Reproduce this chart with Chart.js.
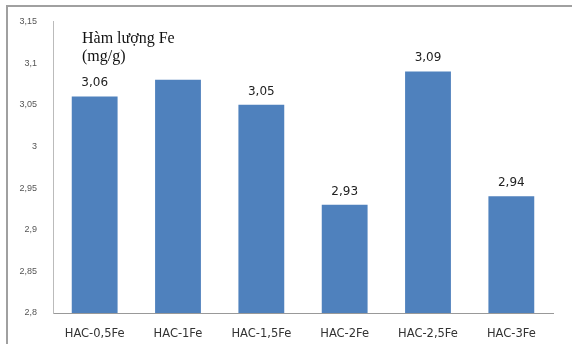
<!DOCTYPE html>
<html>
<head>
<meta charset="utf-8">
<script src="https://cdn.jsdelivr.net/npm/chart.js@4/dist/chart.umd.min.js"></script>
<style>
  html, body { margin: 0; padding: 0; background: #ffffff; }
  #wrap { position: relative; width: 572px; height: 344px; }
</style>
</head>
<body>
<div id="wrap"><canvas id="c" width="572" height="344"></canvas></div>
<script>
// Iron content per sample
const categories = ['HAC-0,5Fe', 'HAC-1Fe', 'HAC-1,5Fe', 'HAC-2Fe', 'HAC-2,5Fe', 'HAC-3Fe'];
const feValues = [3.06, 3.08, 3.05, 2.93, 3.09, 2.94];
const showValueLabel = [true, false, true, true, true, true];
const yTicks = [2.8, 2.85, 2.9, 2.95, 3, 3.05, 3.1, 3.15];
const titleLines = ['Hàm lượng Fe', '(mg/g)'];

const fmt = v => String(v).replace('.', ',');

// Frame lines, title and value labels
const decor = {
  id: 'decor',
  beforeDraw(chart) {
    const ctx = chart.ctx;
    ctx.save();
    ctx.fillStyle = '#ffffff';
    ctx.fillRect(0, 0, chart.width, chart.height);
    ctx.strokeStyle = '#a0a0a0';
    ctx.lineWidth = 2;
    ctx.beginPath();
    ctx.moveTo(7, 344);
    ctx.lineTo(7, 6);
    ctx.lineTo(572, 6);
    ctx.stroke();
    ctx.restore();
  },
  afterDatasetsDraw(chart) {
    const ctx = chart.ctx;
    ctx.save();
    ctx.fillStyle = '#111111';
    ctx.font = '16px "Liberation Serif", "Times New Roman", serif';
    ctx.textAlign = 'left';
    ctx.textBaseline = 'alphabetic';
    ctx.fillText(titleLines[0], 82, 43);
    ctx.fillText(titleLines[1], 82, 61);

    const meta = chart.getDatasetMeta(0);
    ctx.font = '12px "DejaVu Sans", Verdana, sans-serif';
    ctx.fillStyle = '#222222';
    ctx.textAlign = 'center';
    ctx.textBaseline = 'alphabetic';
    meta.data.forEach((bar, i) => {
      if (!showValueLabel[i]) return;
      ctx.fillText(fmt(feValues[i]), bar.x, bar.y - 10);
    });
    ctx.restore();
  }
};

new Chart(document.getElementById('c'), {
  type: 'bar',
  data: {
    labels: categories,
    datasets: [{
      data: feValues,
      backgroundColor: '#4F81BD',
      borderWidth: 0,
      barPercentage: 0.55,
      categoryPercentage: 1.0
    }]
  },
  options: {
    responsive: false,
    animation: false,
    devicePixelRatio: 1,
    layout: { padding: { top: 20, right: 19, left: 0, bottom: 0 } },
    plugins: { legend: { display: false }, tooltip: { enabled: false } },
    scales: {
      x: {
        grid: { display: false, drawTicks: false },
        border: { display: true, color: '#999999', width: 1 },
        ticks: {
          color: '#333333',
          font: { family: '"DejaVu Sans", Verdana, sans-serif', size: 11.5 },
          padding: 14,
          maxRotation: 0
        },
        afterFit(scale) { scale.height = 31; }
      },
      y: {
        min: 2.8,
        max: 3.15,
        afterBuildTicks(scale) { scale.ticks = yTicks.map(v => ({ value: v })); },
        grid: { display: false, drawTicks: false },
        border: { display: true, color: '#bbbbbb', width: 1 },
        ticks: {
          color: '#555555',
          font: { family: '"Liberation Sans", Arial, sans-serif', size: 9 },
          padding: 16,
          callback: v => fmt(Math.round(v * 100) / 100)
        },
        afterFit(scale) { scale.width = 53; }
      }
    }
  },
  plugins: [decor]
});
</script>
</body>
</html>
